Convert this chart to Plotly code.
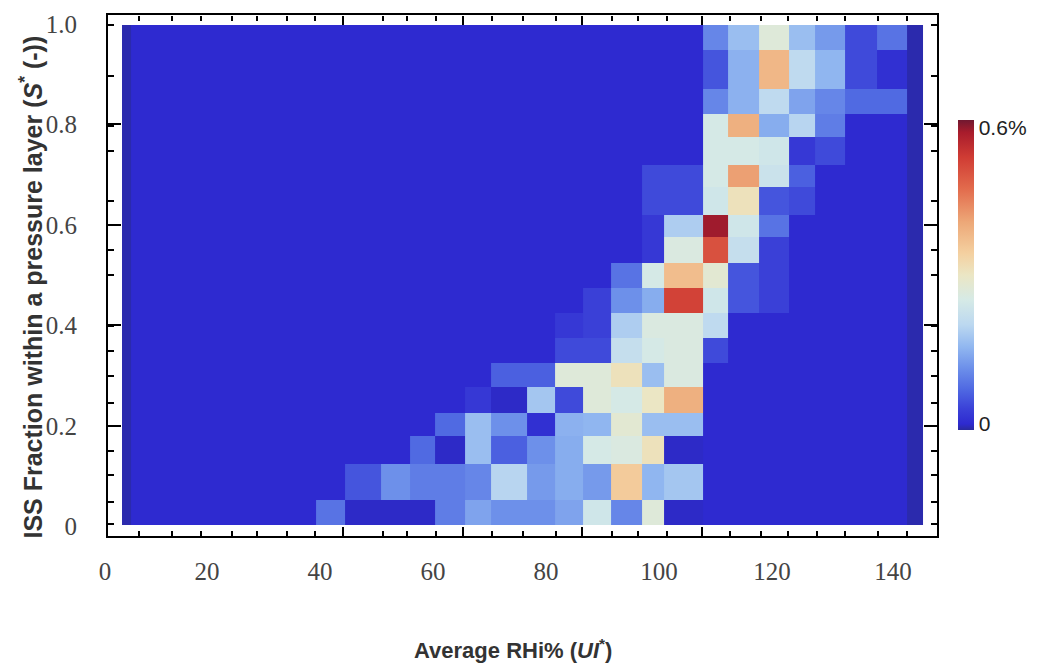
import plotly.graph_objects as go

# bin edges, on the axes' own scales
x_edges = [4.96, 6.6, 13.8, 18.9, 24.4, 28.8, 34.2, 39.3, 44.4, 50.8, 55.9, 60.4, 65.7, 70.3, 76.6,
           81.6, 86.5, 91.5, 97.0, 100.9, 107.8, 112.2, 117.7, 123.0, 127.6, 132.9, 138.6, 143.9, 146.7]
y_edges_top_down = [0.998, 0.948, 0.871, 0.821, 0.775, 0.719, 0.675, 0.620, 0.576, 0.524,
                    0.474, 0.424, 0.375, 0.325, 0.277, 0.225, 0.179, 0.125, 0.052, 0.002]

B = 0.012  # background cells
E = 0.004  # darker outer cells
# one row per list, top row first, values in %
r00 = [E,B,B,B,B,B,B,B,B,B,B,B,B,B,B,B,B,B,B,B,.11,.17,.27,.17,.13,.05,.09,E]
r01 = [E,B,B,B,B,B,B,B,B,B,B,B,B,B,B,B,B,B,B,B,.06,.155,.38,.21,.16,.05,.02,E]
r02 = [E,B,B,B,B,B,B,B,B,B,B,B,B,B,B,B,B,B,B,B,.11,.155,.21,.14,.11,.08,.08,E]
r03 = [E,B,B,B,B,B,B,B,B,B,B,B,B,B,B,B,B,B,B,B,.25,.39,.15,.20,.10,B,B,E]
r04 = [E,B,B,B,B,B,B,B,B,B,B,B,B,B,B,B,B,B,B,B,.25,.25,.24,.03,.05,B,B,E]
r05 = [E,B,B,B,B,B,B,B,B,B,B,B,B,B,B,B,B,B,.05,.05,.25,.41,.23,.07,B,B,B,E]
r06 = [E,B,B,B,B,B,B,B,B,B,B,B,B,B,B,B,B,B,.05,.05,.24,.31,.06,.05,B,B,B,E]
r07 = [E,B,B,B,B,B,B,B,B,B,B,B,B,B,B,B,B,B,.03,.19,.58,.24,.09,B,B,B,B,E]
r08 = [E,B,B,B,B,B,B,B,B,B,B,B,B,B,B,B,B,B,.03,.26,.50,.22,.04,B,B,B,B,E]
r09 = [E,B,B,B,B,B,B,B,B,B,B,B,B,B,B,B,B,.09,.25,.37,.28,.06,.04,B,B,B,B,E]
r10 = [E,B,B,B,B,B,B,B,B,B,B,B,B,B,B,B,.04,.12,.15,.52,.24,.06,.04,B,B,B,B,E]
r11 = [E,B,B,B,B,B,B,B,B,B,B,B,B,B,B,.03,.04,.19,.26,.26,.21,B,B,B,B,B,B,E]
r12 = [E,B,B,B,B,B,B,B,B,B,B,B,B,B,B,.05,.05,.22,.25,.26,.05,B,B,B,B,B,B,E]
r13 = [E,B,B,B,B,B,B,B,B,B,B,B,B,.07,.07,.27,.27,.31,.17,.26,B,B,B,B,B,B,B,E]
r14 = [E,B,B,B,B,B,B,B,B,B,B,B,.03,.01,.18,.05,.27,.25,.30,.39,B,B,B,B,B,B,B,E]
r15 = [E,B,B,B,B,B,B,B,B,B,B,.08,.17,.12,.02,.155,.16,.28,.17,.17,B,B,B,B,B,B,B,E]
r16 = [E,B,B,B,B,B,B,B,B,B,.08,.01,.17,.07,.12,.15,.25,.26,.31,.01,B,B,B,B,B,B,B,E]
r17 = [E,B,B,B,B,B,B,B,.06,.12,.10,.10,.11,.20,.13,.15,.13,.35,.16,.18,B,B,B,B,B,B,B,E]
r18 = [E,B,B,B,B,B,B,.09,.01,.01,.01,.10,.14,.12,.12,.14,.24,.11,.27,.01,B,B,B,B,B,B,B,E]
rows_top_down = [r00,r01,r02,r03,r04,r05,r06,r07,r08,r09,r10,r11,r12,r13,r14,r15,r16,r17,r18]

z_max = 0.6
color_stops = [(0.0, "#2a2a9c"), (0.02, "#2e2ad0"), (0.07, "#3b42d8"), (0.13, "#4f68e2"),
               (0.20, "#6d90ea"), (0.27, "#92b8f0"), (0.34, "#bcd8f0"), (0.42, "#d6eae6"),
               (0.50, "#ebe6c4"), (0.57, "#f4d0a0"), (0.67, "#eda878"), (0.78, "#e26a4c"),
               (0.88, "#d03c34"), (0.96, "#a81c2c"), (1.0, "#701830")]

x_tick_values = [2.48, 20, 40, 60, 80, 100, 120, 141.4]
x_tick_text = ["0\u00a0", "20", "40", "60", "80", "100", "120", "140"]
x_small_ticks = [8, 13.8, 18.9, 24.4, 28.8, 34.2, 39.2, 44.1, 51.2, 55.4, 60.5, 65.3, 70.5, 75.9,
                 81.8, 86.4, 91.7, 96.3, 101.4, 107.6, 112.6, 118, 122.8, 128, 133, 138.8, 143.9]
x_long_ticks = [44.1, 65.3, 86.4, 107.6]
y_tick_values = [0, 0.2, 0.4, 0.6, 0.8, 1.0]
y_tick_text = ["0", "0.2", "0.4", "0.6", "0.8", "1.0"]
y_small_ticks = [0.004, 0.048, 0.102, 0.151, 0.245, 0.299, 0.349, 0.398, 0.5, 0.55, 0.6, 0.648,
                 0.748, 0.797, 0.896, 0.998]

TICK_FONT = dict(family="Liberation Serif", size=25, color="#444444")
X_RANGE = [2.48, 149.2]
Y_RANGE = [-0.0191, 1.0179]

fig = go.Figure()
fig.add_trace(go.Heatmap(
    x=x_edges, y=y_edges_top_down[::-1], z=rows_top_down[::-1],
    zmin=0, zmax=z_max, colorscale=[[p, c] for p, c in color_stops], xgap=0, ygap=0,
    colorbar=dict(
        x=1.0253, xanchor="left", y=0.203, yanchor="bottom", len=0.5955, lenmode="fraction",
        thickness=16, thicknessmode="pixels", outlinewidth=0, ticks="", tickvals=[0.012, 0.585],
        ticktext=["0", "0.6%"], ticklabelposition="outside",
        tickfont=dict(family="Liberation Sans", size=21, color="#222222"), xpad=0, ypad=0,
    ),
))
fig.add_trace(go.Scatter(x=[], y=[], xaxis="x2", yaxis="y2", showlegend=False, hoverinfo="skip"))
fig.add_trace(go.Scatter(x=[], y=[], xaxis="x3", yaxis="y", showlegend=False, hoverinfo="skip"))

fig.update_layout(
    width=1040, height=663, autosize=False,
    margin=dict(l=108, r=103, t=15, b=127, pad=0),
    paper_bgcolor="white", plot_bgcolor="white",
    showlegend=False,
    xaxis=dict(range=X_RANGE, tickmode="array", tickvals=x_tick_values, ticktext=x_tick_text,
               ticks="", tickfont=TICK_FONT, ticklabelstandoff=12, showgrid=False, zeroline=False,
               showline=True, linecolor="black", linewidth=2, mirror=True,
               minor=dict(tickmode="array", tickvals=x_small_ticks, ticks="inside", ticklen=5,
                          tickwidth=2, tickcolor="black", showgrid=False)),
    yaxis=dict(range=Y_RANGE, tickmode="array", tickvals=y_tick_values, ticktext=y_tick_text,
               ticks="", tickfont=TICK_FONT, ticklabelstandoff=24, showgrid=False, zeroline=False,
               showline=True, linecolor="black", linewidth=2, mirror="allticks",
               minor=dict(tickmode="array", tickvals=y_small_ticks, ticks="inside", ticklen=6,
                          tickwidth=2, tickcolor="black", showgrid=False)),
    xaxis2=dict(overlaying="x", anchor="y", side="bottom", range=X_RANGE, tickmode="array",
                tickvals=x_long_ticks, showticklabels=False, ticks="inside", ticklen=9, tickwidth=2,
                tickcolor="black", showgrid=False, zeroline=False, showline=False),
    xaxis3=dict(overlaying="x", anchor="free", position=1, side="top", range=X_RANGE, tickmode="array",
                tickvals=x_long_ticks, showticklabels=False, ticks="inside", ticklen=9, tickwidth=2,
                tickcolor="black", showgrid=False, zeroline=False, showline=False,
                minor=dict(tickmode="array", tickvals=x_small_ticks, ticks="inside", ticklen=5,
                           tickwidth=2, tickcolor="black", showgrid=False)),
    yaxis2=dict(overlaying="y", anchor="x", side="left", range=Y_RANGE, tickmode="array",
                tickvals=[0.2, 0.4, 0.6, 0.8], showticklabels=False, ticks="inside", ticklen=13, tickwidth=2,
                tickcolor="black", showgrid=False, zeroline=False, mirror="allticks", showline=False),
    annotations=[
        dict(text="<b>Average RHi% (<i>UI</i><sup>*</sup>)</b>", xref="paper", yref="paper",
             x=0.489, y=-0.216, xanchor="center", yanchor="middle", showarrow=False,
             font=dict(family="Liberation Sans", size=22, color="#333333")),
        dict(text="<b>ISS Fraction within a pressure layer (<i>S</i><sup>*</sup> (-))</b>", xref="paper", yref="paper",
             x=-0.0925, y=0.4775, xanchor="center", yanchor="middle", textangle=-90, showarrow=False,
             font=dict(family="Liberation Sans", size=25, color="#333333")),
    ],
)

fig.write_html("out.html", config={"displayModeBar": False},
               post_script="document.body.style.margin='0';document.documentElement.style.overflow='hidden';")
